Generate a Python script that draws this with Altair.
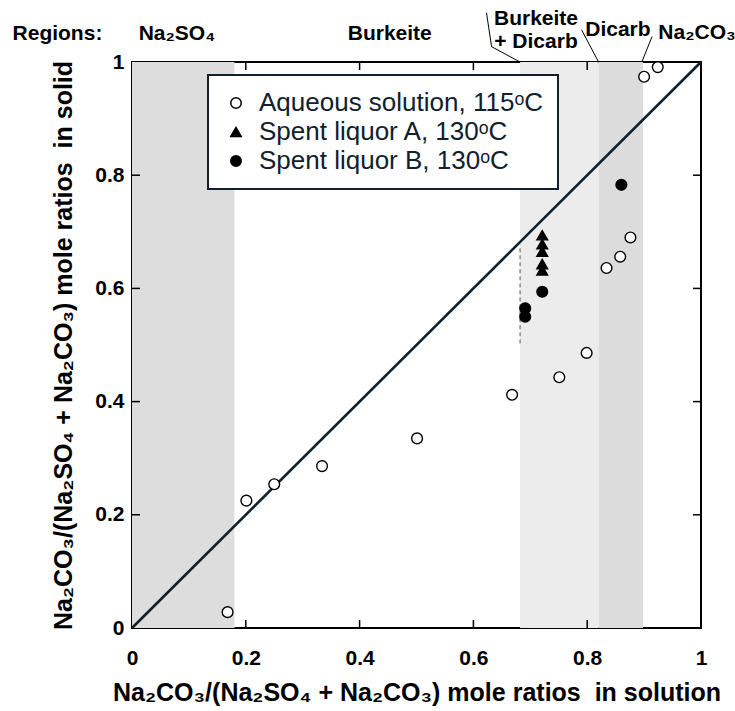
import altair as alt
import pandas as pd

W, H = 569, 566
FONT = "Liberation Sans"
INK = "#10202c"

# ---- data -------------------------------------------------------------
series_names = ["Aqueous solution, 115ᵒC", "Spent liquor A, 130ᵒC", "Spent liquor B, 130ᵒC"]

aq_x = [0.168, 0.201, 0.250, 0.334, 0.501, 0.668, 0.751, 0.799, 0.834, 0.858, 0.876, 0.900, 0.924]
aq_y = [0.028, 0.225, 0.254, 0.286, 0.335, 0.412, 0.443, 0.486, 0.636, 0.656, 0.690, 0.974, 0.991]

a_x = [0.721, 0.721, 0.721, 0.721, 0.721]
a_y = [0.694, 0.678, 0.665, 0.643, 0.632]

b_x = [0.721, 0.691, 0.691, 0.860]
b_y = [0.594, 0.565, 0.550, 0.783]

reg_x0 = [0.0, 0.682, 0.820]
reg_x1 = [0.180, 0.820, 0.898]
reg_col = ["#dddddd", "#ececec", "#dcdcdc"]

tick_vals = [0.2, 0.4, 0.6, 0.8]
axis_vals = [0, 0.2, 0.4, 0.6, 0.8, 1]

diag_x = [0, 1]
diag_y = [0, 1]

dash_x = [0.682, 0.682]
dash_y = [0.503, 0.677]

lab_text = ["Regions:", "Na₂SO₄", "Burkeite", "Burkeite", "+ Dicarb", "Dicarb", "Na₂CO₃"]
lab_x = [-0.131, 0.079, 0.453, 0.710, 0.710, 0.854, 0.993]
lab_y = [1.049, 1.049, 1.049, 1.076, 1.035, 1.057, 1.051]

lead_id = [1, 1, 1, 2, 2, 3, 3]
lead_ord = [0, 1, 2, 0, 1, 0, 1]
lead_x = [0.623, 0.632, 0.682, 0.790, 0.820, 0.914, 0.896]
lead_y = [1.087, 1.027, 1.000, 1.057, 1.000, 1.045, 1.000]

# ---- tables -----------------------------------------------------------
pts = pd.DataFrame({
    "x": aq_x + a_x + b_x,
    "y": aq_y + a_y + b_y,
    "series": [series_names[0]] * len(aq_x) + [series_names[1]] * len(a_x) + [series_names[2]] * len(b_x),
})
regions = pd.DataFrame({"x0": reg_x0, "x1": reg_x1, "c": reg_col})
ticks = pd.DataFrame({"v": tick_vals})
diag = pd.DataFrame({"x": diag_x, "y": diag_y})
dash = pd.DataFrame({"x": dash_x, "y": dash_y})
labels = pd.DataFrame({"t": lab_text, "x": lab_x, "y": lab_y})
leads = pd.DataFrame({"id": lead_id, "o": lead_ord, "x": lead_x, "y": lead_y})

xsc = alt.Scale(domain=[0, 1], nice=False, zero=False)
ysc = alt.Scale(domain=[0, 1], nice=False, zero=False)

x_title = "Na₂CO₃/(Na₂SO₄ + Na₂CO₃) mole ratios\u00a0 in solution"
y_title = "Na₂CO₃/(Na₂SO₄ + Na₂CO₃) mole ratios\u00a0 in solid"

xaxis = alt.Axis(values=axis_vals, format="~g", ticks=False, domain=False, grid=False,
                 labelFont=FONT, labelFontSize=21, labelFontWeight="bold", labelColor="black",
                 labelPadding=19, labelFlush=False,
                 title=x_title, titleFont=FONT, titleFontSize=25, titleFontWeight="bold",
                 titleColor="black", titlePadding=12)
yaxis = alt.Axis(values=axis_vals, format="~g", ticks=False, domain=False, grid=False,
                 labelFont=FONT, labelFontSize=21, labelFontWeight="bold", labelColor="black",
                 labelPadding=8, labelFlush=False,
                 title=y_title, titleFont=FONT, titleFontSize=25, titleFontWeight="bold",
                 titleColor="black", titlePadding=18)

rects = alt.Chart(regions).mark_rect().encode(
    x=alt.X("x0:Q", scale=xsc, axis=xaxis),
    x2="x1:Q",
    y=alt.value(0),
    y2=alt.value(H),
    color=alt.Color("c:N", scale=None),
)

dashed = alt.Chart(dash).mark_line(color="#555555", strokeDash=[4, 3], strokeWidth=1).encode(
    x=alt.X("x:Q", scale=xsc), y=alt.Y("y:Q", scale=ysc)
)

diagonal = alt.Chart(diag).mark_line(color=INK, strokeWidth=2.6).encode(
    x=alt.X("x:Q", scale=xsc), y=alt.Y("y:Q", scale=ysc, axis=yaxis)
)

tb = alt.Chart(ticks).mark_rule(color="black", strokeWidth=1.5).encode(
    x=alt.X("v:Q", scale=xsc), y=alt.value(H), y2=alt.value(H - 8))
tt = alt.Chart(ticks).mark_rule(color="black", strokeWidth=1.5).encode(
    x=alt.X("v:Q", scale=xsc), y=alt.value(0), y2=alt.value(8))
tl = alt.Chart(ticks).mark_rule(color="black", strokeWidth=1.5).encode(
    y=alt.Y("v:Q", scale=ysc), x=alt.value(0), x2=alt.value(8))
tr = alt.Chart(ticks).mark_rule(color="black", strokeWidth=1.5).encode(
    y=alt.Y("v:Q", scale=ysc), x=alt.value(W), x2=alt.value(W - 8))

legend = alt.Legend(title=None, orient="none", legendX=76, legendY=13,
                    fillColor="white", strokeColor=INK, padding=15, rowPadding=3,
                    labelFont=FONT, labelFontSize=26, labelColor=INK, labelLimit=400,
                    symbolSize=110, symbolStrokeWidth=1.5, labelOffset=10)

points = alt.Chart(pts).mark_point(filled=True, size=115, stroke="black", strokeWidth=1.4, opacity=1).encode(
    x=alt.X("x:Q", scale=xsc),
    y=alt.Y("y:Q", scale=ysc),
    shape=alt.Shape("series:N", sort=series_names,
                    scale=alt.Scale(domain=series_names, range=["circle", "triangle-up", "circle"]),
                    legend=legend),
    fill=alt.Fill("series:N", sort=series_names,
                  scale=alt.Scale(domain=series_names, range=["white", "black", "black"]),
                  legend=legend),
)

texts = alt.Chart(labels).mark_text(font=FONT, fontSize=21, fontWeight="bold", color="black",
                                    align="center", baseline="middle").encode(
    x=alt.X("x:Q", scale=xsc), y=alt.Y("y:Q", scale=ysc), text="t:N")

leaders = alt.Chart(leads).mark_line(color="black", strokeWidth=1).encode(
    x=alt.X("x:Q", scale=xsc), y=alt.Y("y:Q", scale=ysc), detail="id:N", order="o:Q")

chart = alt.layer(rects, dashed, diagonal, tb, tt, tl, tr, points, texts, leaders).properties(
    width=W, height=H,
    autosize=alt.AutoSizeParams(type="none"),
    padding={"left": 132, "top": 62, "right": 34, "bottom": 83},
    background="white",
).configure_view(stroke="black", strokeWidth=2).configure_legend(strokeWidth=2)

chart.save("out.html", embed_options={"renderer": "svg", "actions": False})
